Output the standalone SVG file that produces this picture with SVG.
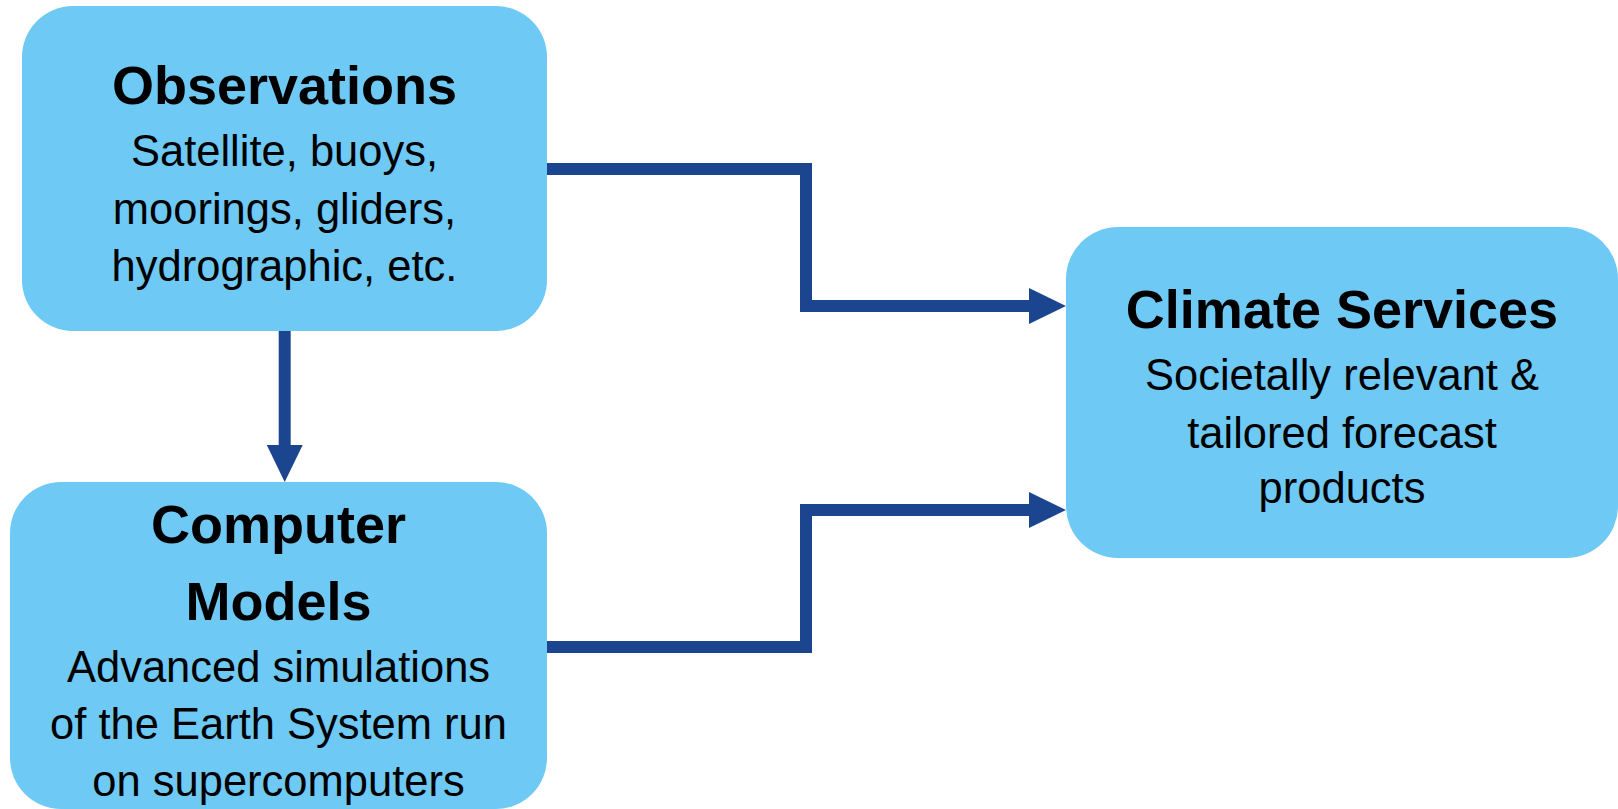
<svg xmlns="http://www.w3.org/2000/svg" width="1618" height="809" viewBox="0 0 1618 809">
  <style>
    .box { fill: #6ec9f5; }
    .title { font-family: "Liberation Sans", Arial, sans-serif; font-weight: bold; font-size: 54px; fill: #000; text-anchor: middle; }
    .sub { font-family: "Liberation Sans", Arial, sans-serif; font-size: 43.5px; fill: #000; text-anchor: middle; }
    .conn { fill: none; stroke: #1b468f; stroke-width: 12; stroke-linejoin: miter; stroke-linecap: butt; }
  </style>
  <defs>
    <marker id="arrow" markerUnits="userSpaceOnUse" markerWidth="37" markerHeight="36" refX="0" refY="18" orient="auto" viewBox="0 0 37 36">
      <path d="M0,0 L37,18 L0,36 Z" fill="#1b468f"/>
    </marker>
  </defs>
  <rect width="1618" height="809" fill="#ffffff"/>

  <g id="connectors">
    <polyline class="conn" points="284.7,331 284.7,445" marker-end="url(#arrow)"/>
    <polyline class="conn" points="547,169 806,169 806,306 1029,306" marker-end="url(#arrow)"/>
    <polyline class="conn" points="547,647 806,647 806,510 1029,510" marker-end="url(#arrow)"/>
  </g>

  <g id="observations">
    <rect class="box" x="22" y="6" width="525" height="325" rx="51" ry="51"/>
    <text class="title" x="284.5" y="104">Observations</text>
    <text class="sub" x="284.5" y="166">Satellite, buoys,</text>
    <text class="sub" x="284.5" y="223.5">moorings, gliders,</text>
    <text class="sub" x="284.5" y="281">hydrographic, etc.</text>
  </g>

  <g id="computer-models">
    <rect class="box" x="10" y="482" width="537" height="327" rx="51" ry="51"/>
    <text class="title" x="278.5" y="543">Computer</text>
    <text class="title" x="278.5" y="619.5">Models</text>
    <text class="sub" x="278.5" y="682">Advanced simulations</text>
    <text class="sub" x="278.5" y="739">of the Earth System run</text>
    <text class="sub" x="278.5" y="796">on supercomputers</text>
  </g>

  <g id="climate-services">
    <rect class="box" x="1066" y="227" width="552" height="331" rx="52" ry="52"/>
    <text class="title" x="1342" y="328">Climate Services</text>
    <text class="sub" x="1342" y="390">Societally relevant &amp;</text>
    <text class="sub" x="1342" y="447.5">tailored forecast</text>
    <text class="sub" x="1342" y="503">products</text>
  </g>
</svg>
